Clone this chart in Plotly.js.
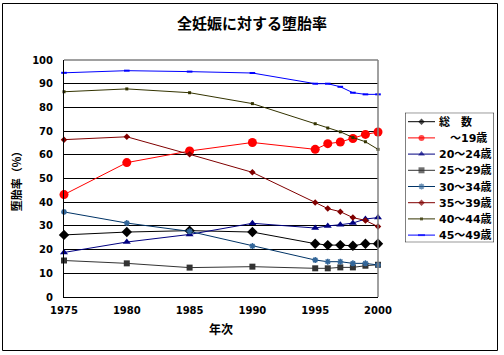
<!DOCTYPE html>
<html>
<head>
<meta charset="utf-8">
<script src="https://cdn.plot.ly/plotly-3.0.1.min.js"></script>
<style>html,body{margin:0;padding:0;background:#fff;}#chart{width:504px;height:355px;}</style>
</head>
<body>
<div id="chart"></div>
<script>
const years = [1975, 1980, 1985, 1990, 1995, 1996, 1997, 1998, 1999, 2000];
const seriesNames = ["総　数", "　～19歳", "20～24歳", "25～29歳", "30～34歳", "35～39歳", "40～44歳", "45～49歳"];
const total   = [26.2, 27.4, 28.0, 27.4, 22.5, 21.9, 21.9, 21.6, 22.5, 22.5];
const age19   = [43.2, 56.7, 61.6, 65.2, 62.3, 64.7, 65.4, 66.9, 68.6, 69.6];
const age2024 = [18.8, 23.2, 26.4, 31.1, 29.1, 30.0, 30.5, 31.2, 32.9, 33.5];
const age2529 = [15.4, 14.2, 12.4, 12.8, 12.1, 12.1, 12.5, 12.5, 13.2, 13.6];
const age3034 = [35.9, 31.2, 27.7, 21.5, 15.6, 14.9, 14.9, 14.2, 14.2, 13.5];
const age3539 = [66.4, 67.6, 60.2, 52.6, 39.9, 37.3, 36.0, 33.5, 32.3, 29.7];
const age4044 = [86.6, 87.8, 86.2, 81.6, 73.1, 71.3, 69.7, 67.3, 65.5, 62.3];
const age4549 = [94.6, 95.5, 95.1, 94.5, 90.0, 90.0, 88.7, 86.2, 85.5, 85.5];
const xTicks = [1975, 1980, 1985, 1990, 1995, 2000];
const yTicks = [0, 10, 20, 30, 40, 50, 60, 70, 80, 90, 100];

const values = [total, age19, age2024, age2529, age3034, age3539, age4044, age4549];
const styles = [
  {line: '#000000', mcolor: '#000000', symbol: 'diamond', size: 8, lsize: 5, mline: 0},
  {line: '#FF0000', mcolor: '#FF0000', symbol: 'circle', size: 9, lsize: 6, mline: 0},
  {line: '#000080', mcolor: '#000080', symbol: 'triangle-up', size: 7, lsize: 6, mline: 0},
  {line: '#333333', mcolor: '#333333', symbol: 'square', size: 6, lsize: 6, mline: 0},
  {line: '#003366', mcolor: '#336699', symbol: 'asterisk-open', size: 5, lsize: 5, mline: 1.5},
  {line: '#800000', mcolor: '#800000', symbol: 'diamond', size: 5, lsize: 5, mline: 0},
  {line: '#333300', mcolor: '#333300', symbol: 'square', size: 3, lsize: 3, mline: 0},
  {line: '#0000FF', mcolor: '#0000FF', symbol: 'line-ew-open', size: 4, lsize: 5, mline: 2}
];

const traces = [];
values.forEach((v, i) => {
  const s = styles[i];
  traces.push({
    type: 'scatter', mode: 'lines+markers', x: years, y: v, name: seriesNames[i],
    line: {color: s.line, width: 1},
    marker: {symbol: s.symbol, size: s.size, color: s.mcolor, line: {color: s.mcolor, width: s.mline}},
    showlegend: false, hoverinfo: 'skip', cliponaxis: false
  });
});

// Custom compact legend (layout only)
const legTop = 121.7, legStep = 16.2;
const annotations = [];
seriesNames.forEach((n, i) => {
  const s = styles[i];
  const ry = legTop + legStep * i;
  traces.push({
    type: 'scatter', mode: 'lines+markers', xaxis: 'x2', yaxis: 'y2',
    x: [408, 421.5, 435], y: [ry, ry, ry],
    line: {color: s.line, width: 1},
    marker: {symbol: s.symbol, size: [0, s.lsize, 0], color: s.mcolor, line: {color: s.mcolor, width: s.mline}},
    showlegend: false, hoverinfo: 'skip', cliponaxis: false
  });
  annotations.push({
    xref: 'x2', yref: 'y2', x: 437, y: ry, xanchor: 'left', yanchor: 'middle',
    text: n, showarrow: false,
    font: {family: 'DejaVu Sans, Noto Sans CJK JP', size: 11, color: '#000', weight: 'bold'}
  });
});

const W = 440, H = 237, L = 64, T = 60;
const px = v => (v - L) / W;
const py = v => (T + H - v) / H;

const layout = {
  width: 504, height: 355,
  margin: {l: L, r: 0, t: T, b: 58},
  paper_bgcolor: '#ffffff', plot_bgcolor: '#ffffff',
  font: {family: 'DejaVu Sans, Noto Sans CJK JP', color: '#000'},
  title: {
    text: '<b>全妊娠に対する堕胎率</b>',
    font: {family: 'Noto Sans CJK JP', size: 15, color: '#000'},
    x: 0.5, xref: 'container', xanchor: 'center',
    y: 1 - 24 / 355, yref: 'container', yanchor: 'middle'
  },
  xaxis: {
    domain: [0, 314 / W], range: [1975, 2000], tickvals: xTicks, ticktext: xTicks.map(String),
    showgrid: false, zeroline: false, showline: true, linecolor: '#000', linewidth: 1,
    ticks: '', ticklabelstandoff: 4,
    tickfont: {family: 'DejaVu Sans', size: 10, color: '#000', weight: 'bold'},
    title: {text: '<b>年次</b>', standoff: 10, font: {family: 'Noto Sans CJK JP', size: 12, color: '#000'}},
    fixedrange: true
  },
  yaxis: {
    range: [0, 100], tickvals: yTicks, ticktext: yTicks.map(String),
    showgrid: true, gridcolor: '#000', gridwidth: 1, zeroline: false,
    showline: true, linecolor: '#000', linewidth: 1,
    ticks: '', ticklabelstandoff: 8,
    tickfont: {family: 'DejaVu Sans', size: 10, color: '#000', weight: 'bold'},
    title: {text: '<b>堕胎率（%）</b>', standoff: 8, font: {family: 'Noto Sans CJK JP', size: 11, color: '#000'}},
    fixedrange: true
  },
  xaxis2: {domain: [px(405), px(494)], range: [405, 494], visible: false, fixedrange: true, anchor: 'y2'},
  yaxis2: {domain: [py(242.3), py(112.7)], range: [242.3, 112.7], visible: false, fixedrange: true, anchor: 'x2'},
  annotations: annotations,
  shapes: [
    {type: 'line', xref: 'x domain', yref: 'y domain', x0: 0, x1: 1, y0: 1, y1: 1, line: {color: '#808080', width: 1.5}},
    {type: 'line', xref: 'x domain', yref: 'y domain', x0: 1, x1: 1, y0: 0, y1: 1, line: {color: '#808080', width: 1.5}},
    {type: 'rect', xref: 'x2', yref: 'y2', x0: 405, x1: 494, y0: 112.7, y1: 242.3, line: {color: '#000', width: 1}, fillcolor: 'rgba(0,0,0,0)'},
    {type: 'rect', xref: 'paper', yref: 'paper', x0: px(2.5), x1: px(497.5), y0: py(350.5), y1: py(3.5), line: {color: '#000', width: 1}, fillcolor: 'rgba(0,0,0,0)'}
  ],
  showlegend: false,
  hovermode: false
};

Plotly.newPlot('chart', traces, layout, {staticPlot: true, displayModeBar: false});
</script>
</body>
</html>
